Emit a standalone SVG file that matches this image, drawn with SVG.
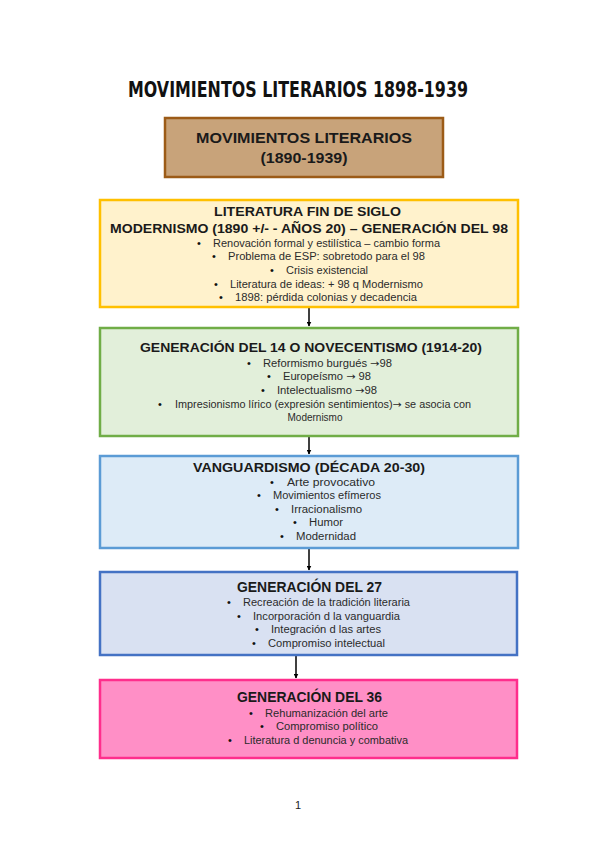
<svg xmlns="http://www.w3.org/2000/svg" width="599" height="848" viewBox="0 0 599 848">
<defs>
<marker id="ah" viewBox="0 0 10 10" refX="9" refY="5" markerWidth="5" markerHeight="5" orient="auto" markerUnits="userSpaceOnUse">
<path d="M0,0 L10,5 L0,10 z" fill="#000"/>
</marker>
<style>
.box{stroke-width:2.5}
.t{font-family:"Liberation Sans",Arial,sans-serif;font-weight:bold;fill:#1a1a1a;text-anchor:middle}
.b{font-family:"Liberation Sans",Arial,sans-serif;font-size:10px;fill:#2b2b2b}
.d{font-family:"Liberation Sans",Arial,sans-serif;font-size:11px;fill:#111}
.ar{font-family:"DejaVu Sans",sans-serif}
.c{stroke:#000;stroke-width:1.5;fill:none}
</style>
</defs>
<rect width="599" height="848" fill="#fff"/>
<text x="128" y="97" font-family="DejaVu Sans, sans-serif" font-weight="bold" font-size="21" fill="#111" textLength="340" lengthAdjust="spacingAndGlyphs">MOVIMIENTOS LITERARIOS 1898-1939</text>

<g id="connectors">
<line class="c" x1="309" y1="308" x2="309" y2="326" marker-end="url(#ah)"/>
<line class="c" x1="309" y1="437" x2="309" y2="454" marker-end="url(#ah)"/>
<line class="c" x1="309" y1="549" x2="309" y2="570" marker-end="url(#ah)"/>
<line class="c" x1="296" y1="656" x2="296" y2="678" marker-end="url(#ah)"/>
</g>

<g id="n0">
<rect class="box" x="165" y="118" width="278" height="59" fill="#C8A37A" stroke="#9C5B17"/>
<text class="t" x="304" y="143" font-size="15" textLength="216" lengthAdjust="spacingAndGlyphs">MOVIMIENTOS LITERARIOS</text>
<text class="t" x="304" y="163" font-size="15" textLength="87" lengthAdjust="spacingAndGlyphs">(1890-1939)</text>
</g>

<g id="n1">
<rect class="box" x="100" y="200" width="418" height="107" fill="#FFF2CC" stroke="#FFC000"/>
<text class="t" x="307.5" y="216" font-size="13.5" textLength="187" lengthAdjust="spacingAndGlyphs">LITERATURA FIN DE SIGLO</text>
<text class="t" x="309" y="233" font-size="13.5" textLength="398" lengthAdjust="spacingAndGlyphs">MODERNISMO (1890 +/- - AÑOS 20) – GENERACIÓN DEL 98</text>
<text class="d" x="197" y="247">•</text><text class="b" x="213" y="247" textLength="227" lengthAdjust="spacingAndGlyphs">Renovación formal y estilística – cambio forma</text>
<text class="d" x="212" y="260">•</text><text class="b" x="228" y="260" textLength="197" lengthAdjust="spacingAndGlyphs">Problema de ESP: sobretodo para el 98</text>
<text class="d" x="270" y="274">•</text><text class="b" x="286" y="274" textLength="82" lengthAdjust="spacingAndGlyphs">Crisis existencial</text>
<text class="d" x="214" y="288">•</text><text class="b" x="230" y="288" textLength="193" lengthAdjust="spacingAndGlyphs">Literatura de ideas: + 98 q Modernismo</text>
<text class="d" x="219" y="301">•</text><text class="b" x="235" y="301" textLength="182" lengthAdjust="spacingAndGlyphs">1898: pérdida colonias y decadencia</text>
</g>

<g id="n2">
<rect class="box" x="100" y="328" width="418" height="108" fill="#E2EFDA" stroke="#70AD47"/>
<text class="t" x="311" y="352" font-size="13.5" textLength="342" lengthAdjust="spacingAndGlyphs">GENERACIÓN DEL 14 O NOVECENTISMO (1914-20)</text>
<text class="d" x="247" y="367">•</text><text class="b" x="263" y="367" textLength="129" lengthAdjust="spacingAndGlyphs">Reformismo burgués <tspan class="ar">→</tspan>98</text>
<text class="d" x="267" y="380">•</text><text class="b" x="283" y="380" textLength="88" lengthAdjust="spacingAndGlyphs">Europeísmo <tspan class="ar">→</tspan> 98</text>
<text class="d" x="261" y="394">•</text><text class="b" x="277" y="394" textLength="100" lengthAdjust="spacingAndGlyphs">Intelectualismo <tspan class="ar">→</tspan>98</text>
<text class="d" x="158" y="408">•</text><text class="b" x="175" y="408" textLength="296" lengthAdjust="spacingAndGlyphs">Impresionismo lírico (expresión sentimientos)<tspan class="ar">→</tspan> se asocia con</text>
<text class="b" x="315" y="421" text-anchor="middle">Modernismo</text>
</g>

<g id="n3">
<rect class="box" x="100" y="456" width="418" height="92" fill="#DDEBF7" stroke="#5B9BD5"/>
<text class="t" x="309" y="472" font-size="13.5" textLength="232" lengthAdjust="spacingAndGlyphs">VANGUARDISMO (DÉCADA 20-30)</text>
<text class="d" x="270" y="486">•</text><text class="b" x="287" y="486" textLength="88" lengthAdjust="spacingAndGlyphs">Arte provocativo</text>
<text class="d" x="257" y="499">•</text><text class="b" x="273" y="499" textLength="108" lengthAdjust="spacingAndGlyphs">Movimientos efímeros</text>
<text class="d" x="275" y="513">•</text><text class="b" x="291" y="513" textLength="71" lengthAdjust="spacingAndGlyphs">Irracionalismo</text>
<text class="d" x="293" y="526">•</text><text class="b" x="309" y="526" textLength="34" lengthAdjust="spacingAndGlyphs">Humor</text>
<text class="d" x="280" y="540">•</text><text class="b" x="296" y="540" textLength="60" lengthAdjust="spacingAndGlyphs">Modernidad</text>
</g>

<g id="n4">
<rect class="box" x="100" y="572" width="417" height="83" fill="#D9E1F2" stroke="#4472C4"/>
<text class="t" x="309.5" y="592" font-size="14" textLength="145" lengthAdjust="spacingAndGlyphs">GENERACIÓN DEL 27</text>
<text class="d" x="227" y="606">•</text><text class="b" x="243" y="606" textLength="167" lengthAdjust="spacingAndGlyphs">Recreación de la tradición literaria</text>
<text class="d" x="237" y="620">•</text><text class="b" x="253" y="620" textLength="147" lengthAdjust="spacingAndGlyphs">Incorporación d la vanguardia</text>
<text class="d" x="255" y="633">•</text><text class="b" x="271" y="633" textLength="110" lengthAdjust="spacingAndGlyphs">Integración d las artes</text>
<text class="d" x="252" y="647">•</text><text class="b" x="268" y="647" textLength="117" lengthAdjust="spacingAndGlyphs">Compromiso intelectual</text>
</g>

<g id="n5">
<rect class="box" x="100" y="680" width="417" height="78" fill="#FF8FC6" stroke="#FF2E8C"/>
<text class="t" x="309.5" y="702" font-size="14" textLength="145" lengthAdjust="spacingAndGlyphs">GENERACIÓN DEL 36</text>
<text class="d" x="249" y="717">•</text><text class="b" x="265" y="717" textLength="123" lengthAdjust="spacingAndGlyphs">Rehumanización del arte</text>
<text class="d" x="260" y="730">•</text><text class="b" x="276" y="730" textLength="102" lengthAdjust="spacingAndGlyphs">Compromiso político</text>
<text class="d" x="228" y="744">•</text><text class="b" x="244" y="744" textLength="164" lengthAdjust="spacingAndGlyphs">Literatura d denuncia y combativa</text>
</g>

<text x="298" y="809" font-family="Liberation Sans, Arial, sans-serif" font-size="11" fill="#222" text-anchor="middle">1</text>
</svg>
